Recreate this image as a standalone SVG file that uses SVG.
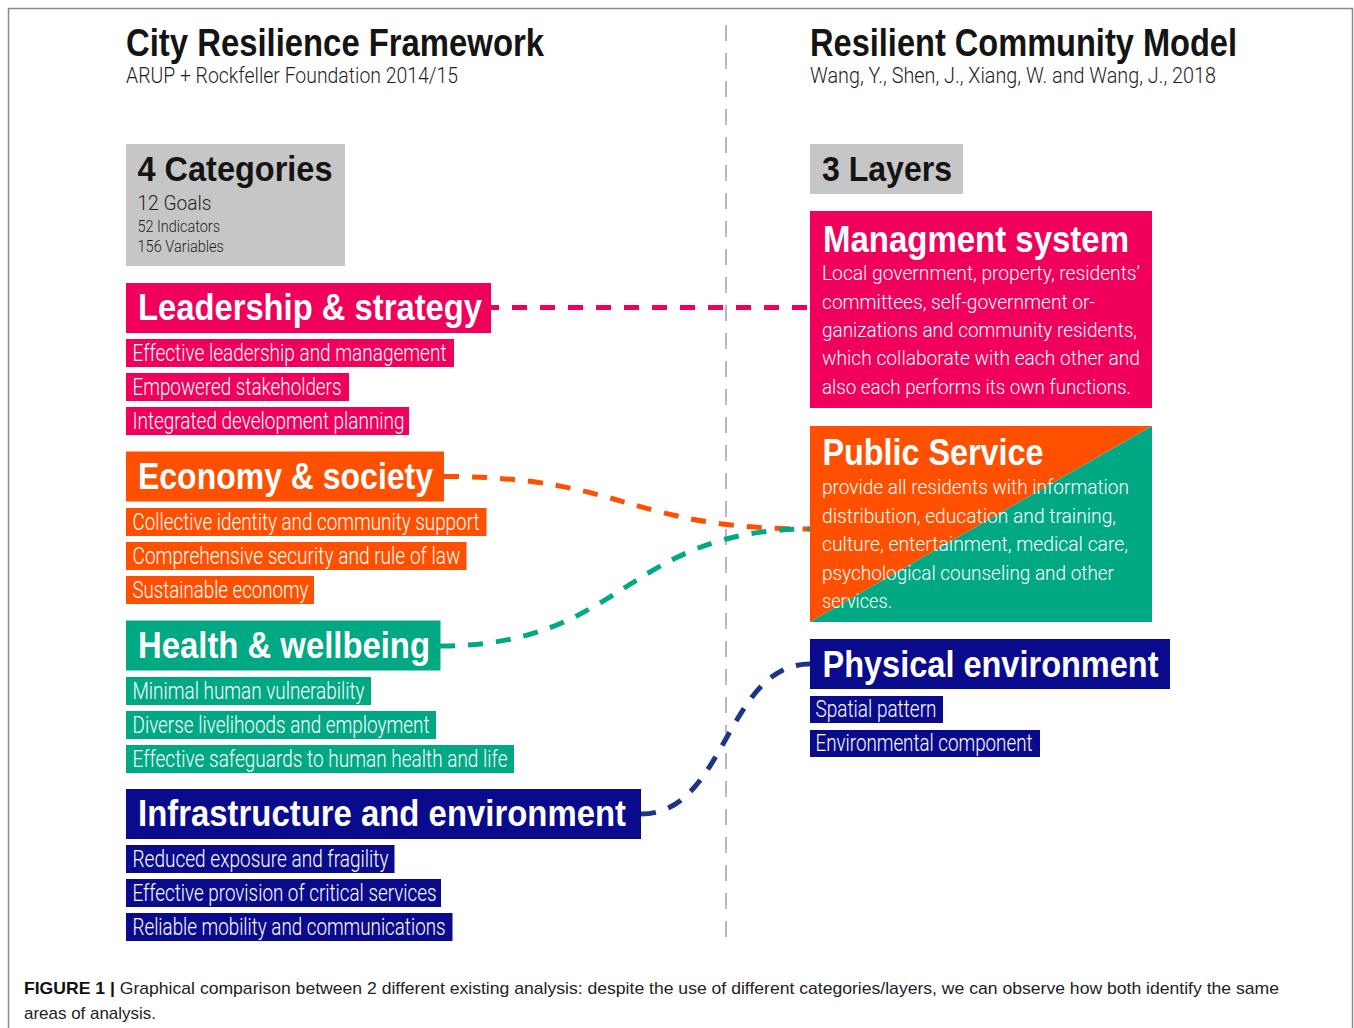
<svg xmlns="http://www.w3.org/2000/svg" width="1354" height="1028" viewBox="0 0 1354 1028">
<style>
.hd{font-family:"Liberation Sans",Arial,sans-serif;font-weight:bold;fill:#141414}
.sub{font-family:"Roboto","Liberation Sans",Arial,sans-serif;font-weight:300;fill:#1e1e1e}
.tt{font-family:"Liberation Sans",Arial,sans-serif;font-weight:bold;fill:#ffffff;font-size:37px}
.it{font-family:"Roboto","Liberation Sans",Arial,sans-serif;font-weight:300;fill:#ffffff;font-size:23px}
.bd{font-family:"Roboto","Liberation Sans",Arial,sans-serif;font-weight:300;fill:#ffffff;font-size:21px}
.pk{fill:#f0005a}.or{fill:#fe5000}.gr{fill:#00a884}.nv{fill:#0a0a8c}.gy{fill:#c6c6c6}
.cn{fill:none;stroke-width:5;stroke-dasharray:15 13}
.cap{font-family:"Liberation Sans",Arial,sans-serif;font-size:17px;fill:#222}
</style>
<rect width="1354" height="1028" fill="#ffffff"/>
<path d="M8.5,1028 V8.5 H1352.5 V1028" fill="none" stroke="#8a8a8a" stroke-width="1.5"/>
<line x1="726" y1="25" x2="726" y2="940" stroke="#a8a8a8" stroke-width="1.6" stroke-dasharray="16 12"/>

<g id="header-left">
<text class="hd" x="126" y="56" font-size="38" textLength="418" lengthAdjust="spacingAndGlyphs">City Resilience Framework</text>
<text class="sub" x="126" y="82.5" font-size="22" textLength="332" lengthAdjust="spacingAndGlyphs">ARUP + Rockfeller Foundation 2014/15</text>
</g>
<g id="header-right">
<text class="hd" x="810" y="56" font-size="38" textLength="427" lengthAdjust="spacingAndGlyphs">Resilient Community Model</text>
<text class="sub" x="810" y="82.5" font-size="22" textLength="406" lengthAdjust="spacingAndGlyphs">Wang, Y., Shen, J., Xiang, W. and Wang, J., 2018</text>
</g>

<g id="categories">
<rect class="gy" x="126" y="144" width="219" height="122"/>
<text class="hd" x="137.5" y="181" font-size="35" textLength="195" lengthAdjust="spacingAndGlyphs">4 Categories</text>
<text class="sub" x="137.5" y="209.5" font-size="20" textLength="74" lengthAdjust="spacingAndGlyphs">12 Goals</text>
<text class="sub" x="137.5" y="231.5" font-size="17" textLength="82.5" lengthAdjust="spacingAndGlyphs">52 Indicators</text>
<text class="sub" x="137.5" y="252" font-size="17" textLength="86.5" lengthAdjust="spacingAndGlyphs">156 Variables</text>
</g>
<g id="layers">
<rect class="gy" x="810" y="144" width="153" height="50"/>
<text class="hd" x="822" y="181" font-size="35" textLength="130" lengthAdjust="spacingAndGlyphs">3 Layers</text>
</g>

<g id="connectors">
<line class="cn" x1="491" y1="307.5" x2="810" y2="307.5" stroke="#f0005a" stroke-dasharray="15 15" stroke-dashoffset="7"/>
<path class="cn" d="M444,476.5 C627,476.5 627,529 810,529" stroke="#fe5000"/>
<path class="cn" d="M440,646 C625,646 625,529 810,529" stroke="#00a884"/>
<path class="cn" d="M641,814 C726,814 726,664 810,664" stroke="#1c3585"/>
</g>

<g id="leadership">
<rect class="pk" x="126" y="283" width="365" height="50"/>
<text class="tt" x="138" y="320" textLength="344" lengthAdjust="spacingAndGlyphs">Leadership &amp; strategy</text>
<rect class="pk" x="126" y="339" width="328" height="28"/>
<text class="it" x="132.5" y="361" textLength="314" lengthAdjust="spacingAndGlyphs">Effective leadership and management</text>
<rect class="pk" x="126" y="373" width="223" height="28"/>
<text class="it" x="132.5" y="395" textLength="209" lengthAdjust="spacingAndGlyphs">Empowered stakeholders</text>
<rect class="pk" x="126" y="407" width="283" height="28"/>
<text class="it" x="132.5" y="429" textLength="272" lengthAdjust="spacingAndGlyphs">Integrated development planning</text>
</g>

<g id="economy">
<rect class="or" x="126" y="451.5" width="318" height="50"/>
<text class="tt" x="138" y="489" textLength="295" lengthAdjust="spacingAndGlyphs">Economy &amp; society</text>
<rect class="or" x="126" y="508" width="360.5" height="28"/>
<text class="it" x="132.5" y="530" textLength="347" lengthAdjust="spacingAndGlyphs">Collective identity and community support</text>
<rect class="or" x="126" y="542" width="340.5" height="28"/>
<text class="it" x="132.5" y="564" textLength="328" lengthAdjust="spacingAndGlyphs">Comprehensive security and rule of law</text>
<rect class="or" x="126" y="576" width="188" height="28"/>
<text class="it" x="132.5" y="598" textLength="176" lengthAdjust="spacingAndGlyphs">Sustainable economy</text>
</g>

<g id="health">
<rect class="gr" x="126" y="620.5" width="314.5" height="50"/>
<text class="tt" x="138" y="658" textLength="292" lengthAdjust="spacingAndGlyphs">Health &amp; wellbeing</text>
<rect class="gr" x="126" y="677" width="245" height="28"/>
<text class="it" x="132.5" y="699" textLength="232" lengthAdjust="spacingAndGlyphs">Minimal human vulnerability</text>
<rect class="gr" x="126" y="711" width="310" height="28"/>
<text class="it" x="132.5" y="733" textLength="297" lengthAdjust="spacingAndGlyphs">Diverse livelihoods and employment</text>
<rect class="gr" x="126" y="745" width="388" height="28"/>
<text class="it" x="132.5" y="767" textLength="375" lengthAdjust="spacingAndGlyphs">Effective safeguards to human health and life</text>
</g>

<g id="infrastructure">
<rect class="nv" x="126" y="789" width="515" height="50"/>
<text class="tt" x="138" y="826" textLength="488" lengthAdjust="spacingAndGlyphs">Infrastructure and environment</text>
<rect class="nv" x="126" y="845" width="268.5" height="28"/>
<text class="it" x="132.5" y="867" textLength="256" lengthAdjust="spacingAndGlyphs">Reduced exposure and fragility</text>
<rect class="nv" x="126" y="879" width="315" height="28"/>
<text class="it" x="132.5" y="901" textLength="304" lengthAdjust="spacingAndGlyphs">Effective provision of critical services</text>
<rect class="nv" x="126" y="913" width="326.5" height="28"/>
<text class="it" x="132.5" y="935" textLength="313" lengthAdjust="spacingAndGlyphs">Reliable mobility and communications</text>
</g>

<g id="management">
<rect class="pk" x="810" y="211" width="342" height="197"/>
<text class="tt" x="823" y="252" font-size="35" textLength="306" lengthAdjust="spacingAndGlyphs">Managment system</text>
<text class="bd" x="822" y="280" textLength="318" lengthAdjust="spacingAndGlyphs">Local government, property, residents’</text>
<text class="bd" x="822" y="308.5" textLength="273" lengthAdjust="spacingAndGlyphs">committees, self-government or-</text>
<text class="bd" x="822" y="337" textLength="315" lengthAdjust="spacingAndGlyphs">ganizations and community residents,</text>
<text class="bd" x="822" y="365" textLength="318" lengthAdjust="spacingAndGlyphs">which collaborate with each other and</text>
<text class="bd" x="822" y="393.5" textLength="309" lengthAdjust="spacingAndGlyphs">also each performs its own functions.</text>
</g>

<g id="public-service">
<polygon class="or" points="810,426 1152,426 810,622"/>
<polygon class="gr" points="1152,426 1152,622 810,622"/>
<text class="tt" x="822.5" y="465" font-size="35" textLength="221" lengthAdjust="spacingAndGlyphs">Public Service</text>
<text class="bd" x="822" y="494" textLength="307" lengthAdjust="spacingAndGlyphs">provide all residents with information</text>
<text class="bd" x="822" y="522.5" textLength="294" lengthAdjust="spacingAndGlyphs">distribution, education and training,</text>
<text class="bd" x="822" y="551" textLength="306" lengthAdjust="spacingAndGlyphs">culture, entertainment, medical care,</text>
<text class="bd" x="822" y="579.5" textLength="292" lengthAdjust="spacingAndGlyphs">psychological counseling and other</text>
<text class="bd" x="822" y="608" textLength="70" lengthAdjust="spacingAndGlyphs">services.</text>
</g>

<g id="physical">
<rect class="nv" x="810" y="639" width="360" height="50"/>
<text class="tt" x="822.5" y="677" textLength="336" lengthAdjust="spacingAndGlyphs">Physical environment</text>
<rect class="nv" x="810" y="696" width="133" height="27"/>
<text class="it" x="815.5" y="717" textLength="121" lengthAdjust="spacingAndGlyphs">Spatial pattern</text>
<rect class="nv" x="810" y="730" width="230" height="27"/>
<text class="it" x="815.5" y="750.5" textLength="217" lengthAdjust="spacingAndGlyphs">Environmental component</text>
</g>

<g id="caption">
<text class="cap" x="24" y="994" textLength="1255" lengthAdjust="spacingAndGlyphs"><tspan font-weight="bold" fill="#111">FIGURE 1 |</tspan> Graphical comparison between 2 different existing analysis: despite the use of different categories/layers, we can observe how both identify the same</text>
<text class="cap" x="24" y="1018.5" textLength="132" lengthAdjust="spacingAndGlyphs">areas of analysis.</text>
</g>
</svg>
